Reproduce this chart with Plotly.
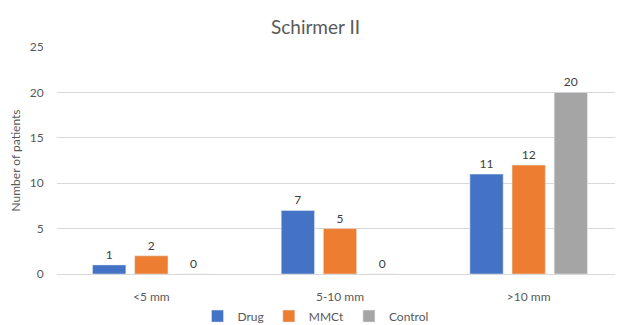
import plotly.graph_objects as go

categories = ["<5 mm", "5-10 mm", ">10 mm"]
drug = [1, 7, 11]
mmct = [2, 5, 12]
control = [0, 0, 20]
series_names = ["Drug", "MMCt", "Control"]
colors = ["#4472C4", "#ED7D31", "#A5A5A5"]

fig = go.Figure()
for name, vals, c in zip(series_names, [drug, mmct, control], colors):
    fig.add_trace(go.Bar(
        x=categories, y=vals, name=name, marker_color=c,
        text=[str(v) for v in vals], textposition="outside",
        textfont=dict(size=12, color="#404040"), cliponaxis=False,
    ))

# page body has an 8px default margin, so the figure is sized to fit the window
fig.update_layout(
    width=615, height=317,
    margin=dict(l=49, r=0, t=39, b=51, autoexpand=False),
    paper_bgcolor="white", plot_bgcolor="white",
    font=dict(family="Lato, Liberation Sans, sans-serif", size=12, color="#595959"),
    title=dict(text="Schirmer II", x=0.5, xanchor="center", xref="container",
               y=0.94, yanchor="middle", yref="container",
               font=dict(size=19, color="#595959")),
    barmode="group", bargap=0.33, bargroupgap=0.21,
    showlegend=True,
    legend=dict(orientation="h", x=0.5, xanchor="center", xref="container",
                y=0.028, yanchor="middle", yref="container",
                font=dict(size=12, color="#595959"), itemwidth=30,
                traceorder="normal", tracegroupgap=0),
    xaxis=dict(showline=True, linecolor="#D9D9D9", ticks="outside", ticklen=12,
               tickcolor="rgba(0,0,0,0)", tickfont=dict(size=12)),
    yaxis=dict(range=[0, 25], dtick=5, showgrid=True, gridcolor="#D9D9D9",
               zeroline=False, showline=False, tickfont=dict(size=12),
               ticks="outside", ticklen=10, tickcolor="rgba(0,0,0,0)",
               title=dict(text="Number of patients", font=dict(size=12), standoff=10)),
)

fig.write_html("out.html")
